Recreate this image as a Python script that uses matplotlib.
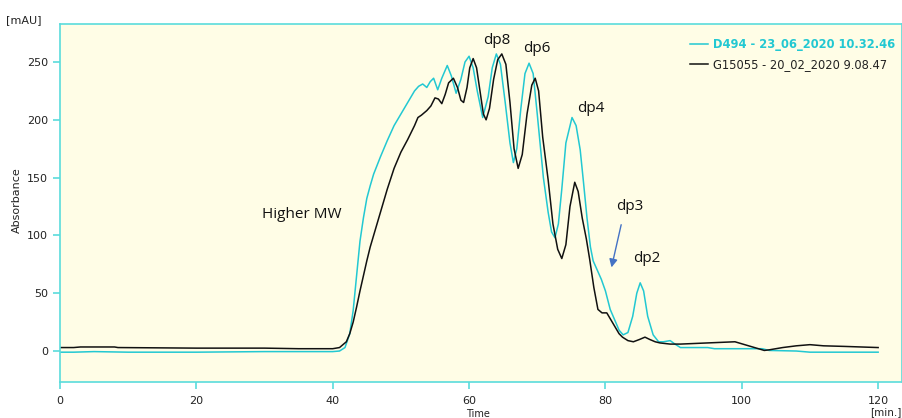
import matplotlib
matplotlib.use("Agg")
import matplotlib.pyplot as plt

# Chromatogram traces (time in min, absorbance in mAU)
cyan_t = [0, 2, 5, 10, 20, 30, 40, 41, 41.8, 42.5, 43, 43.5, 44, 44.5, 45, 45.5, 46, 47, 48, 49,
          50, 51, 52, 52.6, 53.2, 53.8, 54.3, 54.8, 55.4, 56, 56.8, 57.4, 58.1, 58.8, 59.4, 60,
          60.6, 61.2, 62, 62.8, 63.4, 64, 64.6, 65.3, 66, 66.5, 67, 67.6, 68.2, 68.8, 69.4, 70,
          70.9, 71.6, 72.1, 72.6, 73.1, 73.6, 74.2, 75.1, 75.7, 76.3, 76.8, 77.3, 77.8, 78.2,
          78.8, 79.4, 80, 80.7, 81.5, 82, 82.6, 83.3, 84, 84.6, 85.1, 85.6, 86.2, 87, 87.8, 88.5,
          89.5, 90.2, 91, 95, 96, 103, 104, 108, 110, 120]
cyan_y = [-1, -1, -0.5, -1, -1, -0.5, -0.5, 0, 3, 15, 35, 65, 95, 115, 132, 143, 153, 168, 182, 195,
          205, 215, 225, 229, 231, 228, 233, 236, 226, 236, 247, 238, 223, 235, 250, 255,
          245, 225, 202, 220, 245, 257, 248, 215, 180, 163, 175, 210, 240, 249, 240, 205,
          150, 120, 103, 98, 110, 140, 180, 202, 195, 174, 145, 115, 90, 78,
          70, 62, 52, 36, 25, 18, 14, 16, 30, 50, 59, 52, 30, 14, 8, 8,
          9, 6, 3, 3, 2, 2, 0.5, 0, -1, -1]

black_t = [0, 2, 3, 8, 8.5, 20, 30, 35, 40, 41, 42, 42.5, 43, 43.5, 44, 44.5, 45, 45.5, 46, 46.5,
           47, 48, 49, 50, 51, 52, 52.5, 53, 53.8, 54.4, 55, 55.5, 56, 56.5, 57, 57.7, 58.3, 58.8,
           59.2, 59.7, 60.1, 60.6, 61.1, 61.6, 62.1, 62.5, 63, 63.6, 64.2, 64.8, 65.4, 66, 66.6,
           67.2, 67.8, 68.5, 69.2, 69.7, 70.2, 70.8, 71.6, 72.3, 73, 73.6, 74.2, 74.8, 75.5, 76,
           76.6, 77.2, 77.7, 78.3, 78.9, 79.5, 80.2, 80.7, 81.3, 82, 82.5, 83.3, 84.1, 85, 85.8,
           86.5, 87.3, 88, 89.5, 91, 95, 99, 103.3, 104, 106, 108, 110, 112, 115, 120]
black_y = [3, 3, 3.5, 3.5, 3, 2.5, 2.5, 2, 2, 3, 8, 15, 25, 38, 52, 65, 78, 90, 100, 110,
           120, 140, 158, 172, 183, 195, 202, 204, 208, 212, 219, 218, 214, 222, 232, 236, 228, 217,
           215, 228, 245, 253, 245, 225, 205, 200, 210, 235, 252, 257, 248, 215, 175,
           158, 170, 205, 230, 236, 225, 185, 148, 110, 88, 80, 92, 125, 146, 138,
           115, 97, 79, 55, 36, 33, 33, 28, 22, 15, 12, 9, 8, 10, 12,
           10, 8, 7, 6, 6, 7, 8, 0.5, 1, 3, 4.5, 5.5, 4.5, 4, 3]

legend_labels = ["D494 - 23_06_2020 10.32.46", "G15055 - 20_02_2020 9.08.47"]

# peak labels: text, x, y
peak_labels = ["Higher MW", "dp8", "dp6", "dp4", "dp3", "dp2"]
peak_x = [35.5, 64.1, 70.0, 77.9, 83.6, 86.1]
peak_y = [118, 269, 262, 210, 125, 80]

cyan = "#22c8d2"
frame = "#5adcdc"

fig = plt.figure(figsize=(9.03, 4.18), dpi=100)
ax = fig.add_axes([60 / 903, 36 / 418, 842 / 903, 358 / 418])
ax.set_facecolor("#fffde6")

ax.plot(cyan_t, cyan_y, color=cyan, lw=1.1, label=legend_labels[0])
ax.plot(black_t, black_y, color="#111111", lw=1.1, label=legend_labels[1])

ax.set_xlim(0, 123.5)
ax.set_ylim(-26.8, 282.9)
ax.set_xticks([0, 20, 40, 60, 80, 100, 120])
ax.set_yticks([0, 50, 100, 150, 200, 250])
for s in ax.spines.values():
    s.set_color(frame)
    s.set_linewidth(1.2)
ax.tick_params(axis="both", colors=frame, labelcolor="#222222", labelsize=8, length=5, width=1.2)
ax.tick_params(axis="x", pad=5)

fig.text(6 / 903, 1 - 20 / 418, "[mAU]", fontsize=8, color="#222222", va="center")
fig.text(17 / 903, 1 - 200 / 418, "Absorbance", fontsize=8, color="#222222",
         rotation=90, va="center", ha="center")
fig.text(478 / 903, 1 - 414 / 418, "Time", fontsize=7, color="#222222", ha="center", va="center")
fig.text(886 / 903, 1 - 412 / 418, "[min.]", fontsize=7.5, color="#222222", ha="center", va="center")

for txt, x, y in zip(peak_labels, peak_x, peak_y):
    ax.text(x, y, txt, fontsize=11, family="Open Sans", color="#111111", ha="center", va="center")

ax.annotate("", xy=(80.8, 70), xytext=(82.4, 111.6),
            arrowprops=dict(arrowstyle="-|>", color="#4472c4", lw=1, mutation_scale=12))

leg = ax.legend(loc="upper left", bbox_to_anchor=(684 / 903, 1 - 32 / 418),
                bbox_transform=fig.transFigure, frameon=False, fontsize=8.3,
                handlelength=1.6, handletextpad=0.45, labelspacing=0.6, borderpad=0)
texts = leg.get_texts()
texts[0].set_color(cyan)
texts[0].set_fontweight("bold")
texts[1].set_color("#222222")

fig.savefig("out.png", dpi=100)
